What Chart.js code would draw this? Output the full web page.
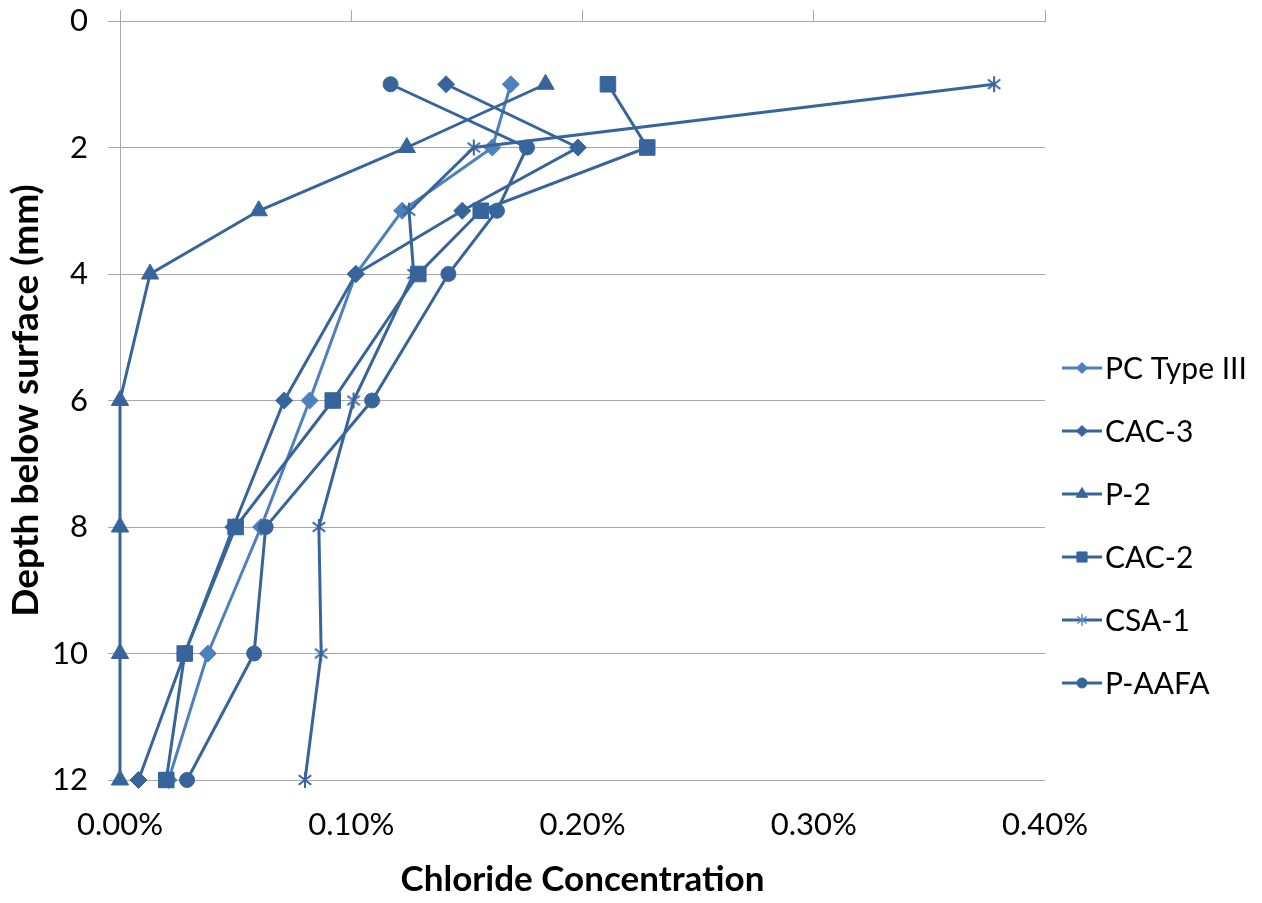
<!DOCTYPE html>
<html>
<head>
<meta charset="utf-8">
<script src="https://cdn.jsdelivr.net/npm/chart.js@4/dist/chart.umd.min.js"></script>
<style>
  html, body { margin: 0; padding: 0; background: #fff; }
  #wrap { width: 1262px; height: 903px; }
</style>
</head>
<body>
<div id="wrap"><canvas id="chloride-chart"></canvas></div>
<script>
// Depths (mm) shared by every profile
const depths = [1, 2, 3, 4, 6, 8, 10, 12];

// Chloride concentration (% by mass) at each depth
const pcType3 = [0.169, 0.161, 0.122, 0.102, 0.082, 0.061, 0.038, 0.021];
const cac3    = [0.141, 0.198, 0.148, 0.102, 0.071, 0.049, 0.028, 0.008];
const p2      = [0.184, 0.124, 0.060, 0.013, 0.000, 0.000, 0.000, 0.000];
const cac2    = [0.211, 0.228, 0.156, 0.129, 0.092, 0.050, 0.028, 0.020];
const csa1    = [0.378, 0.153, 0.125, 0.127, 0.101, 0.086, 0.087, 0.080];
const pAafa   = [0.117, 0.176, 0.163, 0.142, 0.109, 0.063, 0.058, 0.029];

const seriesNames = ['PC Type III', 'CAC-3', 'P-2', 'CAC-2', 'CSA-1', 'P-AAFA'];
const seriesValues = [pcType3, cac3, p2, cac2, csa1, pAafa];
const yTicks = [0, 2, 4, 6, 8, 10, 12];
const xTicks = [0, 0.1, 0.2, 0.3, 0.4];

const DARK = '#37659b';
const LIGHT = '#4d80bd';
const GRID = '#a8a8a8';
const FONT = 'Lato, "Open Sans", sans-serif';

// Asterisk marker: vertical bar plus an X
function asterisk(size, color, lw) {
  const c = document.createElement('canvas');
  c.width = c.height = size;
  const g = c.getContext('2d');
  const m = size / 2, r = size / 2 - 1, d = r * 0.78;
  g.strokeStyle = color;
  g.lineWidth = lw;
  g.beginPath();
  g.moveTo(m, m - r); g.lineTo(m, m + r);
  g.moveTo(m - d, m - d * 0.75); g.lineTo(m + d, m + d * 0.75);
  g.moveTo(m - d, m + d * 0.75); g.lineTo(m + d, m - d * 0.75);
  g.stroke();
  return c;
}

const markers = [
  { style: 'rectRot',  radius: 8.5, border: 1, color: LIGHT },
  { style: 'rectRot',  radius: 8.5, border: 1, color: DARK },
  { style: 'triangle', radius: 10,  border: 1, color: DARK },
  { style: 'rect',     radius: 11,  border: 1, color: DARK },
  { style: asterisk(18, DARK, 2), radius: 9, border: 1, color: DARK },
  { style: 'circle',   radius: 7.5, border: 1, color: DARK },
];
const legendStar = asterisk(14, '#5b89c2', 1.5);

const datasets = seriesNames.map((name, i) => ({
  label: name,
  data: depths.map((d, j) => ({ x: seriesValues[i][j], y: d })),
  borderColor: markers[i].color,
  backgroundColor: markers[i].color,
  borderWidth: 3,
  pointStyle: markers[i].style,
  pointRadius: markers[i].radius,
  pointBorderWidth: markers[i].border,
  pointBorderColor: markers[i].color,
  pointBackgroundColor: markers[i].color,
  tension: 0,
  fill: false,
  clip: false,
  order: seriesNames.length - i, // later series sit on top
}));

// Legend drawn at the right: short line with the marker in its middle
const sideLegend = {
  id: 'sideLegend',
  afterDraw(chart) {
    const ctx = chart.ctx;
    const top = 368, gap = 63, x0 = 1062, x1 = 1102;
    ctx.save();
    datasets.forEach((ds, i) => {
      const y = top + i * gap;
      const style = typeof ds.pointStyle === 'string' ? ds.pointStyle : legendStar;
      ctx.strokeStyle = ds.borderColor;
      ctx.lineWidth = 3;
      ctx.beginPath();
      ctx.moveTo(x0, y);
      ctx.lineTo(x1, y);
      ctx.stroke();
      ctx.fillStyle = ds.borderColor;
      ctx.strokeStyle = ds.borderColor;
      ctx.lineWidth = ds.pointBorderWidth;
      Chart.helpers.drawPoint(ctx, {
        pointStyle: style,
        radius: Math.max(5, ds.pointRadius * 0.65),
        rotation: 0,
        borderWidth: ds.pointBorderWidth,
      }, (x0 + x1) / 2, y);
      ctx.fillStyle = '#000';
      ctx.font = '30px ' + FONT;
      ctx.textBaseline = 'middle';
      ctx.textAlign = 'left';
      ctx.fillText(ds.label, x1 + 3, y + 1);
    });
    ctx.restore();
  }
};

new Chart(document.getElementById('chloride-chart'), {
  type: 'line',
  data: { datasets },
  plugins: [sideLegend],
  options: {
    responsive: true,
    maintainAspectRatio: false,
    animation: false,
    layout: { padding: { left: 0, right: 217, top: 0, bottom: 0 } },
    plugins: {
      legend: { display: false },
      tooltip: { enabled: false },
    },
    scales: {
      x: {
        type: 'linear',
        position: 'bottom',
        min: 0,
        max: 0.4,
        afterBuildTicks: s => { s.ticks = xTicks.map(v => ({ value: v })); },
        afterFit: s => { s.height = 123; },
        ticks: {
          color: '#000',
          font: { family: FONT, size: 31 },
          padding: 26,
          maxRotation: 0,
          callback: v => v.toFixed(2) + '%',
        },
        grid: { display: false, drawTicks: false },
        border: { display: false },
        title: {
          display: true,
          text: 'Chloride Concentration',
          color: '#000',
          font: { family: FONT, size: 35, weight: 'bold' },
          padding: { top: 0, bottom: 2 },
        },
      },
      xTop: {
        type: 'linear',
        position: 'top',
        min: 0,
        max: 0.4,
        afterBuildTicks: s => { s.ticks = xTicks.map(v => ({ value: v })); },
        afterFit: s => { s.height = 21; },
        ticks: { display: false },
        grid: { drawOnChartArea: false, color: GRID, tickLength: 11 },
        border: { display: true, color: GRID },
      },
      y: {
        type: 'linear',
        reverse: true,
        min: 0,
        max: 12,
        afterBuildTicks: s => { s.ticks = yTicks.map(v => ({ value: v })); },
        afterFit: s => { s.width = 120; s.paddingTop = 0; s.paddingBottom = 0; },
        ticks: {
          color: '#000',
          font: { family: FONT, size: 31 },
          padding: 20,
        },
        grid: { color: GRID, tickLength: 12 },
        border: { display: true, color: GRID },
        title: {
          display: true,
          text: 'Depth below surface (mm)',
          color: '#000',
          font: { family: FONT, size: 37, weight: 'bold' },
          padding: { top: 4, bottom: 0 },
        },
      },
    },
  },
});
</script>
</body>
</html>
